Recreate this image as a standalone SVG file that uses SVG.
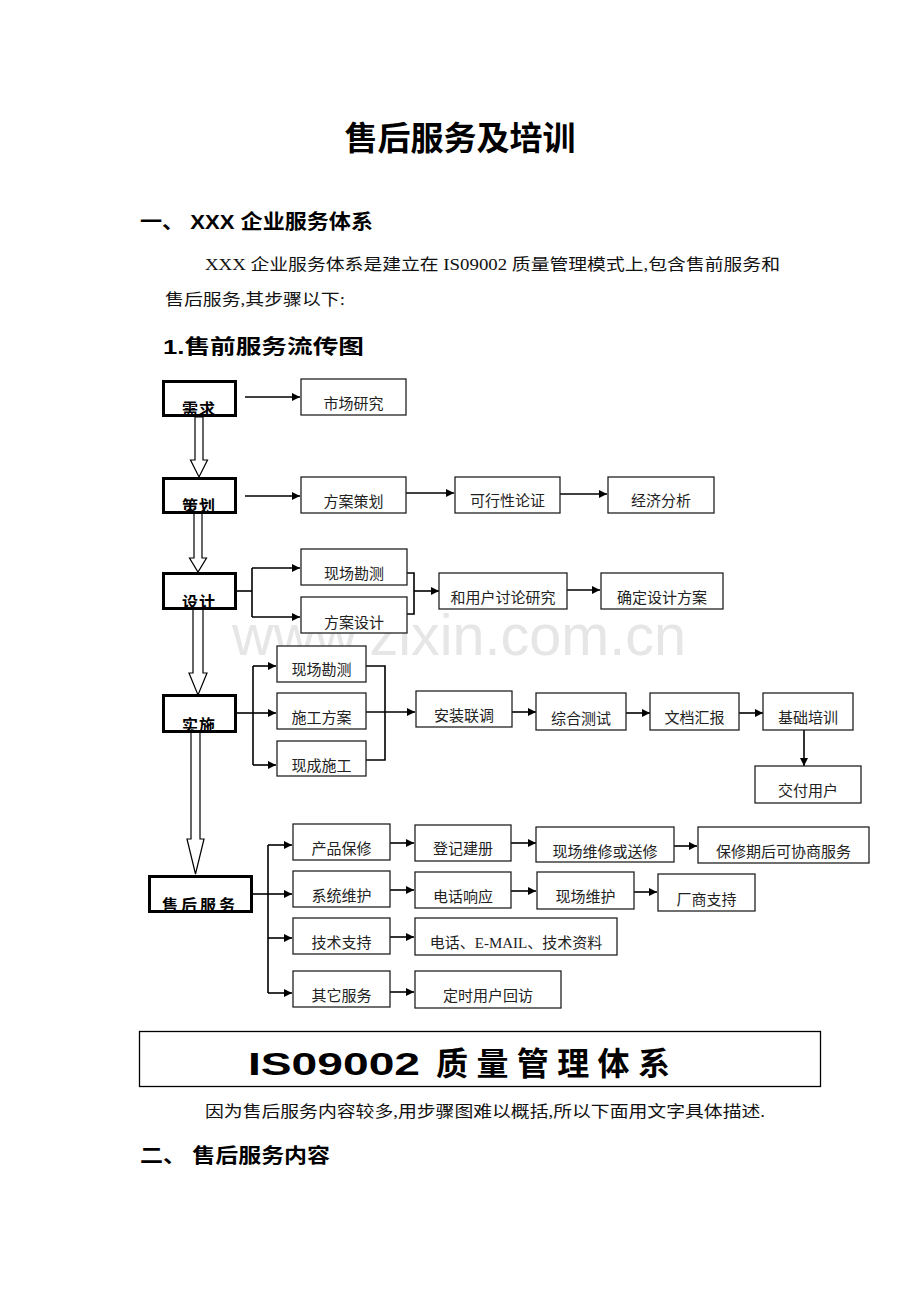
<svg xmlns="http://www.w3.org/2000/svg" width="920" height="1302" viewBox="0 0 920 1302">
<style>
.bg{fill:#fff}
.h{font-family:"Liberation Sans","Noto Sans CJK SC",sans-serif;font-weight:bold;fill:#000}
.p{font-family:"Liberation Serif","Noto Sans CJK SC",serif;font-size:16px;fill:#111}
.mb{fill:none;stroke:#000;stroke-width:3}
.mbf{fill:#fff;stroke:none}
.mt{font-family:"Noto Sans CJK SC",sans-serif;font-weight:bold;font-size:16px;fill:#000;text-anchor:middle;letter-spacing:1px}
.sb{fill:#fff;stroke:#222;stroke-width:1.3}
.st{font-family:"Liberation Serif","Noto Sans CJK SC",serif;font-size:15px;fill:#222;text-anchor:middle}
.c{fill:none;stroke:#000;stroke-width:1.6}
.ca{fill:none;stroke:#000;stroke-width:1.6;marker-end:url(#ah)}
.ha{fill:#fff;stroke:#000;stroke-width:1.2}
.wm{font-family:"Liberation Sans",sans-serif;font-size:58px;fill:#e6e6e6}
</style>
<defs>
<marker id="ah" viewBox="0 0 10 10" refX="10" refY="5" markerWidth="10" markerHeight="8" markerUnits="userSpaceOnUse" orient="auto">
<path d="M0,0 L10,5 L0,10 z" fill="#000"/>
</marker>
</defs>
<rect class="bg" x="0" y="0" width="920" height="1302"/>

<text class="h" x="460" y="150" font-size="33" text-anchor="middle">售后服务及培训</text>
<text class="h" x="140" y="229" font-size="20" textLength="233" lengthAdjust="spacingAndGlyphs">一、 XXX 企业服务体系</text>
<text class="p" x="205" y="270" textLength="575" lengthAdjust="spacingAndGlyphs">XXX 企业服务体系是建立在 IS09002 质量管理模式上,包含售前服务和</text>
<text class="p" x="165" y="305" textLength="180" lengthAdjust="spacingAndGlyphs">售后服务,其步骤以下:</text>
<text class="h" x="163" y="354" font-size="20" textLength="201" lengthAdjust="spacingAndGlyphs">1.售前服务流传图</text>

<text class="wm" x="232" y="655" textLength="454" lengthAdjust="spacingAndGlyphs">www.zixin.com.cn</text>

<g id="connectors">
<path class="ha" d="M195,417 L195,460 L190.5,460 L199,477 L207.5,460 L203,460 L203,417 Z"/>
<path class="ha" d="M194,513 L194,558 L189.5,558 L198,572 L206.5,558 L202,558 L202,513 Z"/>
<path class="ha" d="M193,609 L193,673 L189,673 L198,695 L207,673 L203,673 L203,609 Z"/>
<path class="ha" d="M191,732 L191,839 L187,839 L195.5,874 L204,839 L200,839 L200,732 Z"/>
<line class="ca" x1="245" y1="397" x2="300" y2="397"/>
<line class="ca" x1="245" y1="496" x2="300" y2="496"/>
<line class="ca" x1="406" y1="493" x2="454" y2="493"/>
<line class="ca" x1="560" y1="494" x2="607" y2="494"/>
<polyline class="c" points="237,591 252,591"/>
<line class="c" x1="252" y1="568" x2="252" y2="617"/>
<line class="ca" x1="252" y1="568" x2="300" y2="568"/>
<line class="ca" x1="252" y1="617" x2="300" y2="617"/>
<polyline class="c" points="406,573 414,573 414,614 406,614"/>
<line class="ca" x1="414" y1="591" x2="439" y2="591"/>
<line class="ca" x1="567" y1="590" x2="600" y2="590"/>
<polyline class="c" points="237,713 253,713"/>
<line class="c" x1="253" y1="666" x2="253" y2="765"/>
<line class="ca" x1="253" y1="666" x2="276" y2="666"/>
<line class="ca" x1="253" y1="713" x2="276" y2="713"/>
<line class="ca" x1="253" y1="765" x2="276" y2="765"/>
<polyline class="c" points="366,666 385,666 385,760 366,760"/>
<line class="ca" x1="366" y1="712" x2="415" y2="712"/>
<line class="ca" x1="512" y1="712" x2="536" y2="712"/>
<line class="ca" x1="626" y1="713" x2="650" y2="713"/>
<line class="ca" x1="739" y1="713" x2="763" y2="713"/>
<line class="ca" x1="804" y1="730" x2="804" y2="766"/>
<polyline class="c" points="253,894 268,894"/>
<line class="c" x1="268" y1="845" x2="268" y2="993"/>
<line class="ca" x1="268" y1="845" x2="292" y2="845"/>
<line class="ca" x1="268" y1="894" x2="292" y2="894"/>
<line class="ca" x1="268" y1="938" x2="292" y2="938"/>
<line class="ca" x1="268" y1="993" x2="292" y2="993"/>
<line class="ca" x1="390" y1="843" x2="414" y2="843"/>
<line class="ca" x1="390" y1="890" x2="414" y2="890"/>
<line class="ca" x1="390" y1="937" x2="414" y2="937"/>
<line class="ca" x1="390" y1="992" x2="414" y2="992"/>
<line class="ca" x1="511" y1="843" x2="536" y2="843"/>
<line class="ca" x1="674" y1="846" x2="697" y2="846"/>
<line class="ca" x1="511" y1="891" x2="536" y2="891"/>
<line class="ca" x1="634" y1="892" x2="657" y2="892"/>
</g>

<g id="n-xuqiu"><rect class="mbf" x="163.5" y="381.5" width="72" height="34"/><text class="mt" x="199" y="415">需求</text><rect class="mb" x="163.5" y="381.5" width="72" height="34"/></g>
<g id="n-cehua"><rect class="mbf" x="163.5" y="478.5" width="72" height="34"/><text class="mt" x="199" y="512">策划</text><rect class="mb" x="163.5" y="478.5" width="72" height="34"/></g>
<g id="n-sheji"><rect class="mbf" x="163.5" y="573.5" width="72" height="35"/><text class="mt" x="199" y="608">设计</text><rect class="mb" x="163.5" y="573.5" width="72" height="35"/></g>
<g id="n-shishi"><rect class="mbf" x="163.5" y="695.5" width="72" height="36"/><text class="mt" x="199" y="731">实施</text><rect class="mb" x="163.5" y="695.5" width="72" height="36"/></g>
<g id="n-shouhou"><rect class="mbf" x="149.5" y="876.5" width="102" height="35"/><text class="mt" x="200" y="911" style="letter-spacing:3px">售后服务</text><rect class="mb" x="149.5" y="876.5" width="102" height="35"/></g>

<g id="n1"><rect class="sb" x="301" y="379" width="105" height="36"/><text class="st" x="353.5" y="409">市场研究</text></g>
<g id="n2"><rect class="sb" x="301" y="477" width="105" height="36"/><text class="st" x="353.5" y="507">方案策划</text></g>
<g id="n3"><rect class="sb" x="455" y="477" width="105" height="36"/><text class="st" x="507.5" y="506">可行性论证</text></g>
<g id="n4"><rect class="sb" x="608" y="477" width="106" height="36"/><text class="st" x="661" y="506">经济分析</text></g>
<g id="n5"><rect class="sb" x="301" y="549" width="106" height="36"/><text class="st" x="354" y="579">现场勘测</text></g>
<g id="n6"><rect class="sb" x="301" y="597" width="106" height="36"/><text class="st" x="354" y="628">方案设计</text></g>
<g id="n7"><rect class="sb" x="439" y="573" width="128" height="36"/><text class="st" x="503" y="603">和用户讨论研究</text></g>
<g id="n8"><rect class="sb" x="601" y="573" width="122" height="36"/><text class="st" x="662" y="603">确定设计方案</text></g>
<g id="n9"><rect class="sb" x="277" y="646" width="89" height="36"/><text class="st" x="321.5" y="675">现场勘测</text></g>
<g id="n10"><rect class="sb" x="277" y="693" width="89" height="36"/><text class="st" x="321.5" y="723">施工方案</text></g>
<g id="n11"><rect class="sb" x="277" y="741" width="89" height="35"/><text class="st" x="321.5" y="771">现成施工</text></g>
<g id="n12"><rect class="sb" x="416" y="691" width="96" height="36"/><text class="st" x="464" y="721">安装联调</text></g>
<g id="n13"><rect class="sb" x="536" y="693" width="90" height="37"/><text class="st" x="581" y="724">综合测试</text></g>
<g id="n14"><rect class="sb" x="650" y="693" width="89" height="37"/><text class="st" x="694.5" y="723">文档汇报</text></g>
<g id="n15"><rect class="sb" x="763" y="693" width="90" height="37"/><text class="st" x="808" y="723">基础培训</text></g>
<g id="n16"><rect class="sb" x="755" y="766" width="106" height="37"/><text class="st" x="808" y="796">交付用户</text></g>
<g id="n17"><rect class="sb" x="293" y="824" width="97" height="36"/><text class="st" x="341.5" y="854">产品保修</text></g>
<g id="n18"><rect class="sb" x="293" y="871" width="97" height="36"/><text class="st" x="341.5" y="901">系统维护</text></g>
<g id="n19"><rect class="sb" x="293" y="918" width="97" height="36"/><text class="st" x="341.5" y="948">技术支持</text></g>
<g id="n20"><rect class="sb" x="293" y="971" width="97" height="36"/><text class="st" x="341.5" y="1001">其它服务</text></g>
<g id="n21"><rect class="sb" x="415" y="825" width="96" height="36"/><text class="st" x="463" y="854">登记建册</text></g>
<g id="n22"><rect class="sb" x="536" y="827" width="138" height="35"/><text class="st" x="605" y="857">现场维修或送修</text></g>
<g id="n23"><rect class="sb" x="698" y="827" width="171" height="36"/><text class="st" x="783.5" y="857">保修期后可协商服务</text></g>
<g id="n24"><rect class="sb" x="415" y="872" width="96" height="36"/><text class="st" x="463" y="902">电话响应</text></g>
<g id="n25"><rect class="sb" x="537" y="872" width="97" height="37"/><text class="st" x="585.5" y="902">现场维护</text></g>
<g id="n26"><rect class="sb" x="658" y="874" width="97" height="37"/><text class="st" x="706.5" y="905">厂商支持</text></g>
<g id="n27"><rect class="sb" x="415" y="918" width="202" height="37"/><text class="st" x="516" y="948">电话、E-MAIL、技术资料</text></g>
<g id="n28"><rect class="sb" x="415" y="971" width="146" height="37"/><text class="st" x="488" y="1001">定时用户回访</text></g>

<g id="iso"><rect x="139.5" y="1031.5" width="681" height="55" fill="#fff" stroke="#000" stroke-width="1.3"/>
<text class="h" x="248" y="1075" font-size="32" textLength="172" lengthAdjust="spacingAndGlyphs">IS09002</text>
<text class="h" x="436" y="1075" font-size="32" textLength="234" lengthAdjust="spacing">质量管理体系</text></g>

<text class="p" x="205" y="1117" textLength="560" lengthAdjust="spacingAndGlyphs">因为售后服务内容较多,用步骤图难以概括,所以下面用文字具体描述.</text>
<text class="h" x="140" y="1163" font-size="20" textLength="190" lengthAdjust="spacingAndGlyphs">二、 售后服务内容</text>
</svg>
